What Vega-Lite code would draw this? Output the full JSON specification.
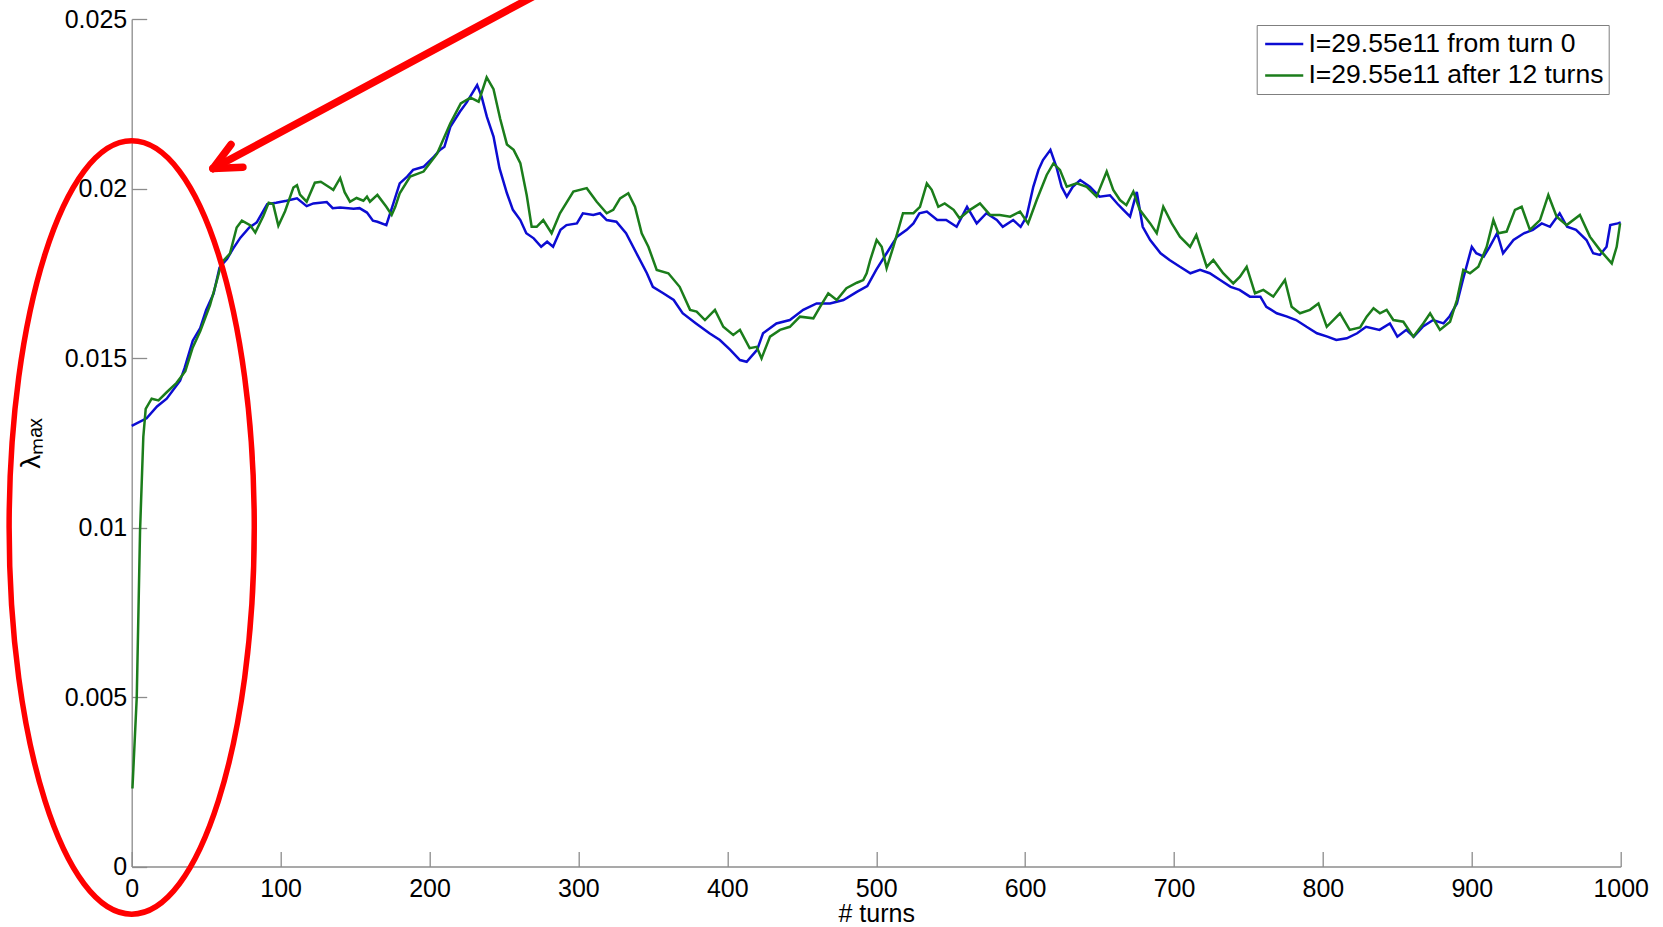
{
  "$schema": "https://vega.github.io/schema/vega-lite/v6.json",
  "autosize": {"type": "none"},
  "padding": {"left": 131.7, "top": 19, "right": 42.3, "bottom": 60.5},
  "width": 1489,
  "height": 847.5,
  "background": "white",
  "config": {"view": {"stroke": null}},
  "datasets": {
    "ring": [{"turn": 0, "lambda": 0.01}],
    "arrow": [
      {"turn": 271.7, "lambda": 0.02571, "turn2": 54.6, "lambda2": 0.02059},
      {"turn": 54.6, "lambda": 0.02059, "turn2": 66.7, "lambda2": 0.0213},
      {"turn": 54.6, "lambda": 0.02059, "turn2": 74.7, "lambda2": 0.02063}
    ],
    "lines": [
      {"run": "I=29.55e11 from turn 0", "turn": 0, "lambda": 0.013},
      {"run": "I=29.55e11 from turn 0", "turn": 10, "lambda": 0.01322},
      {"run": "I=29.55e11 from turn 0", "turn": 17, "lambda": 0.01357},
      {"run": "I=29.55e11 from turn 0", "turn": 23.5, "lambda": 0.0138},
      {"run": "I=29.55e11 from turn 0", "turn": 32.5, "lambda": 0.01433},
      {"run": "I=29.55e11 from turn 0", "turn": 35.5, "lambda": 0.0147},
      {"run": "I=29.55e11 from turn 0", "turn": 41, "lambda": 0.01551},
      {"run": "I=29.55e11 from turn 0", "turn": 46, "lambda": 0.01588},
      {"run": "I=29.55e11 from turn 0", "turn": 50, "lambda": 0.01642},
      {"run": "I=29.55e11 from turn 0", "turn": 55, "lambda": 0.0169},
      {"run": "I=29.55e11 from turn 0", "turn": 59, "lambda": 0.01767},
      {"run": "I=29.55e11 from turn 0", "turn": 64, "lambda": 0.01792},
      {"run": "I=29.55e11 from turn 0", "turn": 68, "lambda": 0.01822},
      {"run": "I=29.55e11 from turn 0", "turn": 73, "lambda": 0.01855},
      {"run": "I=29.55e11 from turn 0", "turn": 79, "lambda": 0.01885},
      {"run": "I=29.55e11 from turn 0", "turn": 84, "lambda": 0.019},
      {"run": "I=29.55e11 from turn 0", "turn": 91, "lambda": 0.01954},
      {"run": "I=29.55e11 from turn 0", "turn": 97, "lambda": 0.01958},
      {"run": "I=29.55e11 from turn 0", "turn": 104, "lambda": 0.01964},
      {"run": "I=29.55e11 from turn 0", "turn": 111, "lambda": 0.01971},
      {"run": "I=29.55e11 from turn 0", "turn": 117.5, "lambda": 0.01948},
      {"run": "I=29.55e11 from turn 0", "turn": 122, "lambda": 0.01956},
      {"run": "I=29.55e11 from turn 0", "turn": 131, "lambda": 0.0196},
      {"run": "I=29.55e11 from turn 0", "turn": 135, "lambda": 0.01942},
      {"run": "I=29.55e11 from turn 0", "turn": 140, "lambda": 0.01944},
      {"run": "I=29.55e11 from turn 0", "turn": 149, "lambda": 0.0194},
      {"run": "I=29.55e11 from turn 0", "turn": 153, "lambda": 0.01942},
      {"run": "I=29.55e11 from turn 0", "turn": 158, "lambda": 0.01929},
      {"run": "I=29.55e11 from turn 0", "turn": 162, "lambda": 0.01905},
      {"run": "I=29.55e11 from turn 0", "turn": 165, "lambda": 0.01902},
      {"run": "I=29.55e11 from turn 0", "turn": 171, "lambda": 0.01892},
      {"run": "I=29.55e11 from turn 0", "turn": 176, "lambda": 0.0196},
      {"run": "I=29.55e11 from turn 0", "turn": 180, "lambda": 0.02015},
      {"run": "I=29.55e11 from turn 0", "turn": 185, "lambda": 0.02035},
      {"run": "I=29.55e11 from turn 0", "turn": 189, "lambda": 0.02055},
      {"run": "I=29.55e11 from turn 0", "turn": 196, "lambda": 0.02064},
      {"run": "I=29.55e11 from turn 0", "turn": 203, "lambda": 0.02094},
      {"run": "I=29.55e11 from turn 0", "turn": 207, "lambda": 0.02114},
      {"run": "I=29.55e11 from turn 0", "turn": 210, "lambda": 0.02123},
      {"run": "I=29.55e11 from turn 0", "turn": 214, "lambda": 0.02182},
      {"run": "I=29.55e11 from turn 0", "turn": 220.5, "lambda": 0.02227},
      {"run": "I=29.55e11 from turn 0", "turn": 225, "lambda": 0.02254},
      {"run": "I=29.55e11 from turn 0", "turn": 232, "lambda": 0.02305},
      {"run": "I=29.55e11 from turn 0", "turn": 235, "lambda": 0.02271},
      {"run": "I=29.55e11 from turn 0", "turn": 238.5, "lambda": 0.02212},
      {"run": "I=29.55e11 from turn 0", "turn": 243, "lambda": 0.02153},
      {"run": "I=29.55e11 from turn 0", "turn": 247, "lambda": 0.0206},
      {"run": "I=29.55e11 from turn 0", "turn": 252, "lambda": 0.01986},
      {"run": "I=29.55e11 from turn 0", "turn": 256, "lambda": 0.01937},
      {"run": "I=29.55e11 from turn 0", "turn": 261, "lambda": 0.01907},
      {"run": "I=29.55e11 from turn 0", "turn": 265, "lambda": 0.01868},
      {"run": "I=29.55e11 from turn 0", "turn": 270, "lambda": 0.01853},
      {"run": "I=29.55e11 from turn 0", "turn": 275, "lambda": 0.01828},
      {"run": "I=29.55e11 from turn 0", "turn": 279, "lambda": 0.01843},
      {"run": "I=29.55e11 from turn 0", "turn": 283, "lambda": 0.01828},
      {"run": "I=29.55e11 from turn 0", "turn": 288, "lambda": 0.01878},
      {"run": "I=29.55e11 from turn 0", "turn": 292, "lambda": 0.01892},
      {"run": "I=29.55e11 from turn 0", "turn": 299, "lambda": 0.01897},
      {"run": "I=29.55e11 from turn 0", "turn": 303, "lambda": 0.01927},
      {"run": "I=29.55e11 from turn 0", "turn": 310, "lambda": 0.01922},
      {"run": "I=29.55e11 from turn 0", "turn": 314.5, "lambda": 0.01927},
      {"run": "I=29.55e11 from turn 0", "turn": 319, "lambda": 0.01907},
      {"run": "I=29.55e11 from turn 0", "turn": 325.5, "lambda": 0.01902},
      {"run": "I=29.55e11 from turn 0", "turn": 332, "lambda": 0.01868},
      {"run": "I=29.55e11 from turn 0", "turn": 339, "lambda": 0.01809},
      {"run": "I=29.55e11 from turn 0", "turn": 346, "lambda": 0.0175},
      {"run": "I=29.55e11 from turn 0", "turn": 350, "lambda": 0.0171},
      {"run": "I=29.55e11 from turn 0", "turn": 357, "lambda": 0.01691},
      {"run": "I=29.55e11 from turn 0", "turn": 364, "lambda": 0.01671},
      {"run": "I=29.55e11 from turn 0", "turn": 370, "lambda": 0.01632},
      {"run": "I=29.55e11 from turn 0", "turn": 379, "lambda": 0.01602},
      {"run": "I=29.55e11 from turn 0", "turn": 388, "lambda": 0.01573},
      {"run": "I=29.55e11 from turn 0", "turn": 395, "lambda": 0.01553},
      {"run": "I=29.55e11 from turn 0", "turn": 402, "lambda": 0.01524},
      {"run": "I=29.55e11 from turn 0", "turn": 408.5, "lambda": 0.01494},
      {"run": "I=29.55e11 from turn 0", "turn": 413, "lambda": 0.01489},
      {"run": "I=29.55e11 from turn 0", "turn": 420, "lambda": 0.01524},
      {"run": "I=29.55e11 from turn 0", "turn": 424, "lambda": 0.01573},
      {"run": "I=29.55e11 from turn 0", "turn": 433, "lambda": 0.01602},
      {"run": "I=29.55e11 from turn 0", "turn": 442, "lambda": 0.01612},
      {"run": "I=29.55e11 from turn 0", "turn": 451, "lambda": 0.01642},
      {"run": "I=29.55e11 from turn 0", "turn": 460, "lambda": 0.01661},
      {"run": "I=29.55e11 from turn 0", "turn": 469, "lambda": 0.01661},
      {"run": "I=29.55e11 from turn 0", "turn": 478, "lambda": 0.01671},
      {"run": "I=29.55e11 from turn 0", "turn": 487, "lambda": 0.01695},
      {"run": "I=29.55e11 from turn 0", "turn": 494, "lambda": 0.01712},
      {"run": "I=29.55e11 from turn 0", "turn": 500, "lambda": 0.0176},
      {"run": "I=29.55e11 from turn 0", "turn": 507, "lambda": 0.01809},
      {"run": "I=29.55e11 from turn 0", "turn": 514, "lambda": 0.01858},
      {"run": "I=29.55e11 from turn 0", "turn": 520.5, "lambda": 0.01878},
      {"run": "I=29.55e11 from turn 0", "turn": 525, "lambda": 0.01897},
      {"run": "I=29.55e11 from turn 0", "turn": 529, "lambda": 0.01927},
      {"run": "I=29.55e11 from turn 0", "turn": 534, "lambda": 0.01932},
      {"run": "I=29.55e11 from turn 0", "turn": 541, "lambda": 0.01907},
      {"run": "I=29.55e11 from turn 0", "turn": 547, "lambda": 0.01907},
      {"run": "I=29.55e11 from turn 0", "turn": 554, "lambda": 0.01887},
      {"run": "I=29.55e11 from turn 0", "turn": 561, "lambda": 0.01946},
      {"run": "I=29.55e11 from turn 0", "turn": 567.5, "lambda": 0.01897},
      {"run": "I=29.55e11 from turn 0", "turn": 574, "lambda": 0.01927},
      {"run": "I=29.55e11 from turn 0", "turn": 581, "lambda": 0.01907},
      {"run": "I=29.55e11 from turn 0", "turn": 585, "lambda": 0.01887},
      {"run": "I=29.55e11 from turn 0", "turn": 592, "lambda": 0.01907},
      {"run": "I=29.55e11 from turn 0", "turn": 597, "lambda": 0.01887},
      {"run": "I=29.55e11 from turn 0", "turn": 601, "lambda": 0.01917},
      {"run": "I=29.55e11 from turn 0", "turn": 605.5, "lambda": 0.02005},
      {"run": "I=29.55e11 from turn 0", "turn": 609, "lambda": 0.02055},
      {"run": "I=29.55e11 from turn 0", "turn": 612, "lambda": 0.02084},
      {"run": "I=29.55e11 from turn 0", "turn": 617, "lambda": 0.02114},
      {"run": "I=29.55e11 from turn 0", "turn": 621, "lambda": 0.02064},
      {"run": "I=29.55e11 from turn 0", "turn": 624.5, "lambda": 0.02005},
      {"run": "I=29.55e11 from turn 0", "turn": 628, "lambda": 0.01976},
      {"run": "I=29.55e11 from turn 0", "turn": 632, "lambda": 0.02005},
      {"run": "I=29.55e11 from turn 0", "turn": 637, "lambda": 0.02025},
      {"run": "I=29.55e11 from turn 0", "turn": 643.5, "lambda": 0.02005},
      {"run": "I=29.55e11 from turn 0", "turn": 650, "lambda": 0.01976},
      {"run": "I=29.55e11 from turn 0", "turn": 657, "lambda": 0.0198},
      {"run": "I=29.55e11 from turn 0", "turn": 662, "lambda": 0.01955},
      {"run": "I=29.55e11 from turn 0", "turn": 666, "lambda": 0.01937},
      {"run": "I=29.55e11 from turn 0", "turn": 670.5, "lambda": 0.01917},
      {"run": "I=29.55e11 from turn 0", "turn": 675, "lambda": 0.0199},
      {"run": "I=29.55e11 from turn 0", "turn": 679, "lambda": 0.01887},
      {"run": "I=29.55e11 from turn 0", "turn": 684, "lambda": 0.01848},
      {"run": "I=29.55e11 from turn 0", "turn": 691, "lambda": 0.01809},
      {"run": "I=29.55e11 from turn 0", "turn": 697, "lambda": 0.01789},
      {"run": "I=29.55e11 from turn 0", "turn": 704, "lambda": 0.01769},
      {"run": "I=29.55e11 from turn 0", "turn": 711, "lambda": 0.0175},
      {"run": "I=29.55e11 from turn 0", "turn": 717.5, "lambda": 0.0176},
      {"run": "I=29.55e11 from turn 0", "turn": 724, "lambda": 0.0175},
      {"run": "I=29.55e11 from turn 0", "turn": 731, "lambda": 0.0173},
      {"run": "I=29.55e11 from turn 0", "turn": 738, "lambda": 0.0171},
      {"run": "I=29.55e11 from turn 0", "turn": 744, "lambda": 0.01701},
      {"run": "I=29.55e11 from turn 0", "turn": 751, "lambda": 0.01681},
      {"run": "I=29.55e11 from turn 0", "turn": 758, "lambda": 0.01681},
      {"run": "I=29.55e11 from turn 0", "turn": 762, "lambda": 0.01651},
      {"run": "I=29.55e11 from turn 0", "turn": 769, "lambda": 0.01632},
      {"run": "I=29.55e11 from turn 0", "turn": 776, "lambda": 0.01622},
      {"run": "I=29.55e11 from turn 0", "turn": 782, "lambda": 0.01612},
      {"run": "I=29.55e11 from turn 0", "turn": 789, "lambda": 0.01592},
      {"run": "I=29.55e11 from turn 0", "turn": 796, "lambda": 0.01573},
      {"run": "I=29.55e11 from turn 0", "turn": 803, "lambda": 0.01563},
      {"run": "I=29.55e11 from turn 0", "turn": 809, "lambda": 0.01553},
      {"run": "I=29.55e11 from turn 0", "turn": 816, "lambda": 0.01558},
      {"run": "I=29.55e11 from turn 0", "turn": 823, "lambda": 0.01573},
      {"run": "I=29.55e11 from turn 0", "turn": 829, "lambda": 0.01592},
      {"run": "I=29.55e11 from turn 0", "turn": 838, "lambda": 0.01583},
      {"run": "I=29.55e11 from turn 0", "turn": 845, "lambda": 0.01602},
      {"run": "I=29.55e11 from turn 0", "turn": 850, "lambda": 0.01563},
      {"run": "I=29.55e11 from turn 0", "turn": 856, "lambda": 0.01583},
      {"run": "I=29.55e11 from turn 0", "turn": 861, "lambda": 0.01563},
      {"run": "I=29.55e11 from turn 0", "turn": 867, "lambda": 0.01592},
      {"run": "I=29.55e11 from turn 0", "turn": 874, "lambda": 0.01612},
      {"run": "I=29.55e11 from turn 0", "turn": 881, "lambda": 0.01602},
      {"run": "I=29.55e11 from turn 0", "turn": 885, "lambda": 0.01622},
      {"run": "I=29.55e11 from turn 0", "turn": 890, "lambda": 0.01661},
      {"run": "I=29.55e11 from turn 0", "turn": 894, "lambda": 0.0173},
      {"run": "I=29.55e11 from turn 0", "turn": 900, "lambda": 0.01828},
      {"run": "I=29.55e11 from turn 0", "turn": 903, "lambda": 0.01809},
      {"run": "I=29.55e11 from turn 0", "turn": 908, "lambda": 0.01799},
      {"run": "I=29.55e11 from turn 0", "turn": 912, "lambda": 0.01828},
      {"run": "I=29.55e11 from turn 0", "turn": 917, "lambda": 0.01868},
      {"run": "I=29.55e11 from turn 0", "turn": 921, "lambda": 0.01809},
      {"run": "I=29.55e11 from turn 0", "turn": 928, "lambda": 0.01848},
      {"run": "I=29.55e11 from turn 0", "turn": 935, "lambda": 0.01868},
      {"run": "I=29.55e11 from turn 0", "turn": 941, "lambda": 0.01878},
      {"run": "I=29.55e11 from turn 0", "turn": 947, "lambda": 0.01897},
      {"run": "I=29.55e11 from turn 0", "turn": 952.5, "lambda": 0.01887},
      {"run": "I=29.55e11 from turn 0", "turn": 959, "lambda": 0.01927},
      {"run": "I=29.55e11 from turn 0", "turn": 964, "lambda": 0.01887},
      {"run": "I=29.55e11 from turn 0", "turn": 970, "lambda": 0.01878},
      {"run": "I=29.55e11 from turn 0", "turn": 977, "lambda": 0.01848},
      {"run": "I=29.55e11 from turn 0", "turn": 981.5, "lambda": 0.01809},
      {"run": "I=29.55e11 from turn 0", "turn": 986, "lambda": 0.01804},
      {"run": "I=29.55e11 from turn 0", "turn": 990.5, "lambda": 0.01828},
      {"run": "I=29.55e11 from turn 0", "turn": 993, "lambda": 0.01892},
      {"run": "I=29.55e11 from turn 0", "turn": 998, "lambda": 0.01897},
      {"run": "I=29.55e11 from turn 0", "turn": 1000, "lambda": 0.019},
      {"run": "I=29.55e11 after 12 turns", "turn": 0.5, "lambda": 0.0023},
      {"run": "I=29.55e11 after 12 turns", "turn": 3.4, "lambda": 0.005},
      {"run": "I=29.55e11 after 12 turns", "turn": 5.6, "lambda": 0.00989},
      {"run": "I=29.55e11 after 12 turns", "turn": 7.8, "lambda": 0.01267},
      {"run": "I=29.55e11 after 12 turns", "turn": 9.4, "lambda": 0.0135},
      {"run": "I=29.55e11 after 12 turns", "turn": 13.4, "lambda": 0.0138},
      {"run": "I=29.55e11 after 12 turns", "turn": 18, "lambda": 0.01375},
      {"run": "I=29.55e11 after 12 turns", "turn": 23.5, "lambda": 0.01399},
      {"run": "I=29.55e11 after 12 turns", "turn": 30, "lambda": 0.01426},
      {"run": "I=29.55e11 after 12 turns", "turn": 36, "lambda": 0.01461},
      {"run": "I=29.55e11 after 12 turns", "turn": 41, "lambda": 0.01531},
      {"run": "I=29.55e11 after 12 turns", "turn": 46, "lambda": 0.01579},
      {"run": "I=29.55e11 after 12 turns", "turn": 52.6, "lambda": 0.01656},
      {"run": "I=29.55e11 after 12 turns", "turn": 57, "lambda": 0.01725},
      {"run": "I=29.55e11 after 12 turns", "turn": 60.4, "lambda": 0.01781},
      {"run": "I=29.55e11 after 12 turns", "turn": 66, "lambda": 0.01808},
      {"run": "I=29.55e11 after 12 turns", "turn": 70.5, "lambda": 0.01885},
      {"run": "I=29.55e11 after 12 turns", "turn": 74, "lambda": 0.01905},
      {"run": "I=29.55e11 after 12 turns", "turn": 79.5, "lambda": 0.01892},
      {"run": "I=29.55e11 after 12 turns", "turn": 83, "lambda": 0.0187},
      {"run": "I=29.55e11 after 12 turns", "turn": 88.4, "lambda": 0.01919},
      {"run": "I=29.55e11 after 12 turns", "turn": 92, "lambda": 0.01958},
      {"run": "I=29.55e11 after 12 turns", "turn": 95, "lambda": 0.01954},
      {"run": "I=29.55e11 after 12 turns", "turn": 98.5, "lambda": 0.0189},
      {"run": "I=29.55e11 after 12 turns", "turn": 103, "lambda": 0.01933},
      {"run": "I=29.55e11 after 12 turns", "turn": 108.6, "lambda": 0.02003},
      {"run": "I=29.55e11 after 12 turns", "turn": 111, "lambda": 0.0201},
      {"run": "I=29.55e11 after 12 turns", "turn": 113, "lambda": 0.01982},
      {"run": "I=29.55e11 after 12 turns", "turn": 117.5, "lambda": 0.01961},
      {"run": "I=29.55e11 after 12 turns", "turn": 123, "lambda": 0.02017},
      {"run": "I=29.55e11 after 12 turns", "turn": 127, "lambda": 0.0202},
      {"run": "I=29.55e11 after 12 turns", "turn": 133, "lambda": 0.02003},
      {"run": "I=29.55e11 after 12 turns", "turn": 135.4, "lambda": 0.01996},
      {"run": "I=29.55e11 after 12 turns", "turn": 140, "lambda": 0.02031},
      {"run": "I=29.55e11 after 12 turns", "turn": 143, "lambda": 0.01989},
      {"run": "I=29.55e11 after 12 turns", "turn": 146.6, "lambda": 0.01961},
      {"run": "I=29.55e11 after 12 turns", "turn": 151, "lambda": 0.01972},
      {"run": "I=29.55e11 after 12 turns", "turn": 155.6, "lambda": 0.01964},
      {"run": "I=29.55e11 after 12 turns", "turn": 158, "lambda": 0.01976},
      {"run": "I=29.55e11 after 12 turns", "turn": 160, "lambda": 0.01961},
      {"run": "I=29.55e11 after 12 turns", "turn": 165, "lambda": 0.01981},
      {"run": "I=29.55e11 after 12 turns", "turn": 171, "lambda": 0.01946},
      {"run": "I=29.55e11 after 12 turns", "turn": 174.6, "lambda": 0.01922},
      {"run": "I=29.55e11 after 12 turns", "turn": 177, "lambda": 0.01946},
      {"run": "I=29.55e11 after 12 turns", "turn": 180, "lambda": 0.01986},
      {"run": "I=29.55e11 after 12 turns", "turn": 187, "lambda": 0.02035},
      {"run": "I=29.55e11 after 12 turns", "turn": 196, "lambda": 0.0205},
      {"run": "I=29.55e11 after 12 turns", "turn": 205, "lambda": 0.02102},
      {"run": "I=29.55e11 after 12 turns", "turn": 214, "lambda": 0.02192},
      {"run": "I=29.55e11 after 12 turns", "turn": 221, "lambda": 0.02251},
      {"run": "I=29.55e11 after 12 turns", "turn": 227.5, "lambda": 0.02268},
      {"run": "I=29.55e11 after 12 turns", "turn": 233, "lambda": 0.02256},
      {"run": "I=29.55e11 after 12 turns", "turn": 238.4, "lambda": 0.02328},
      {"run": "I=29.55e11 after 12 turns", "turn": 243, "lambda": 0.02293},
      {"run": "I=29.55e11 after 12 turns", "turn": 247.5, "lambda": 0.02205},
      {"run": "I=29.55e11 after 12 turns", "turn": 252, "lambda": 0.0213},
      {"run": "I=29.55e11 after 12 turns", "turn": 256.5, "lambda": 0.02114},
      {"run": "I=29.55e11 after 12 turns", "turn": 261, "lambda": 0.02075},
      {"run": "I=29.55e11 after 12 turns", "turn": 265.3, "lambda": 0.0198},
      {"run": "I=29.55e11 after 12 turns", "turn": 268.6, "lambda": 0.01887},
      {"run": "I=29.55e11 after 12 turns", "turn": 272, "lambda": 0.01887},
      {"run": "I=29.55e11 after 12 turns", "turn": 276.4, "lambda": 0.01907},
      {"run": "I=29.55e11 after 12 turns", "turn": 282, "lambda": 0.01868},
      {"run": "I=29.55e11 after 12 turns", "turn": 287.6, "lambda": 0.01927},
      {"run": "I=29.55e11 after 12 turns", "turn": 296.6, "lambda": 0.01991},
      {"run": "I=29.55e11 after 12 turns", "turn": 305.6, "lambda": 0.02001},
      {"run": "I=29.55e11 after 12 turns", "turn": 312.3, "lambda": 0.01961},
      {"run": "I=29.55e11 after 12 turns", "turn": 319, "lambda": 0.01927},
      {"run": "I=29.55e11 after 12 turns", "turn": 323.4, "lambda": 0.01937},
      {"run": "I=29.55e11 after 12 turns", "turn": 328, "lambda": 0.01971},
      {"run": "I=29.55e11 after 12 turns", "turn": 333.5, "lambda": 0.01986},
      {"run": "I=29.55e11 after 12 turns", "turn": 338, "lambda": 0.01946},
      {"run": "I=29.55e11 after 12 turns", "turn": 342.5, "lambda": 0.01868},
      {"run": "I=29.55e11 after 12 turns", "turn": 347, "lambda": 0.01828},
      {"run": "I=29.55e11 after 12 turns", "turn": 352.6, "lambda": 0.0176},
      {"run": "I=29.55e11 after 12 turns", "turn": 360.4, "lambda": 0.0175},
      {"run": "I=29.55e11 after 12 turns", "turn": 368, "lambda": 0.0171},
      {"run": "I=29.55e11 after 12 turns", "turn": 375, "lambda": 0.01642},
      {"run": "I=29.55e11 after 12 turns", "turn": 379.4, "lambda": 0.01637},
      {"run": "I=29.55e11 after 12 turns", "turn": 385, "lambda": 0.01612},
      {"run": "I=29.55e11 after 12 turns", "turn": 391.7, "lambda": 0.01642},
      {"run": "I=29.55e11 after 12 turns", "turn": 397.3, "lambda": 0.01592},
      {"run": "I=29.55e11 after 12 turns", "turn": 404, "lambda": 0.01568},
      {"run": "I=29.55e11 after 12 turns", "turn": 408.5, "lambda": 0.01583},
      {"run": "I=29.55e11 after 12 turns", "turn": 415, "lambda": 0.01529},
      {"run": "I=29.55e11 after 12 turns", "turn": 419.7, "lambda": 0.01533},
      {"run": "I=29.55e11 after 12 turns", "turn": 423, "lambda": 0.01499},
      {"run": "I=29.55e11 after 12 turns", "turn": 428.7, "lambda": 0.01563},
      {"run": "I=29.55e11 after 12 turns", "turn": 435.4, "lambda": 0.01583},
      {"run": "I=29.55e11 after 12 turns", "turn": 442, "lambda": 0.01592},
      {"run": "I=29.55e11 after 12 turns", "turn": 448.8, "lambda": 0.01622},
      {"run": "I=29.55e11 after 12 turns", "turn": 457.8, "lambda": 0.01617},
      {"run": "I=29.55e11 after 12 turns", "turn": 462.3, "lambda": 0.01651},
      {"run": "I=29.55e11 after 12 turns", "turn": 467.8, "lambda": 0.01691},
      {"run": "I=29.55e11 after 12 turns", "turn": 473.5, "lambda": 0.01671},
      {"run": "I=29.55e11 after 12 turns", "turn": 480, "lambda": 0.01706},
      {"run": "I=29.55e11 after 12 turns", "turn": 487, "lambda": 0.01722},
      {"run": "I=29.55e11 after 12 turns", "turn": 491.3, "lambda": 0.0173},
      {"run": "I=29.55e11 after 12 turns", "turn": 493.6, "lambda": 0.0175},
      {"run": "I=29.55e11 after 12 turns", "turn": 496, "lambda": 0.01789},
      {"run": "I=29.55e11 after 12 turns", "turn": 500.3, "lambda": 0.01848},
      {"run": "I=29.55e11 after 12 turns", "turn": 503.7, "lambda": 0.01828},
      {"run": "I=29.55e11 after 12 turns", "turn": 507, "lambda": 0.01765},
      {"run": "I=29.55e11 after 12 turns", "turn": 511.5, "lambda": 0.01828},
      {"run": "I=29.55e11 after 12 turns", "turn": 518, "lambda": 0.01927},
      {"run": "I=29.55e11 after 12 turns", "turn": 525, "lambda": 0.01927},
      {"run": "I=29.55e11 after 12 turns", "turn": 529.4, "lambda": 0.01946},
      {"run": "I=29.55e11 after 12 turns", "turn": 534, "lambda": 0.02015},
      {"run": "I=29.55e11 after 12 turns", "turn": 537.3, "lambda": 0.01996},
      {"run": "I=29.55e11 after 12 turns", "turn": 541.7, "lambda": 0.01946},
      {"run": "I=29.55e11 after 12 turns", "turn": 546, "lambda": 0.01956},
      {"run": "I=29.55e11 after 12 turns", "turn": 552, "lambda": 0.01937},
      {"run": "I=29.55e11 after 12 turns", "turn": 556, "lambda": 0.01912},
      {"run": "I=29.55e11 after 12 turns", "turn": 563, "lambda": 0.01937},
      {"run": "I=29.55e11 after 12 turns", "turn": 569.7, "lambda": 0.01956},
      {"run": "I=29.55e11 after 12 turns", "turn": 576.4, "lambda": 0.01922},
      {"run": "I=29.55e11 after 12 turns", "turn": 583, "lambda": 0.01922},
      {"run": "I=29.55e11 after 12 turns", "turn": 590, "lambda": 0.01917},
      {"run": "I=29.55e11 after 12 turns", "turn": 596.6, "lambda": 0.01932},
      {"run": "I=29.55e11 after 12 turns", "turn": 602, "lambda": 0.01897},
      {"run": "I=29.55e11 after 12 turns", "turn": 607.8, "lambda": 0.01966},
      {"run": "I=29.55e11 after 12 turns", "turn": 614.5, "lambda": 0.0204},
      {"run": "I=29.55e11 after 12 turns", "turn": 619, "lambda": 0.02074},
      {"run": "I=29.55e11 after 12 turns", "turn": 623.4, "lambda": 0.02055},
      {"run": "I=29.55e11 after 12 turns", "turn": 628, "lambda": 0.02005},
      {"run": "I=29.55e11 after 12 turns", "turn": 634.6, "lambda": 0.02015},
      {"run": "I=29.55e11 after 12 turns", "turn": 641.4, "lambda": 0.02005},
      {"run": "I=29.55e11 after 12 turns", "turn": 648, "lambda": 0.01976},
      {"run": "I=29.55e11 after 12 turns", "turn": 654.8, "lambda": 0.0205},
      {"run": "I=29.55e11 after 12 turns", "turn": 659.2, "lambda": 0.01996},
      {"run": "I=29.55e11 after 12 turns", "turn": 663.7, "lambda": 0.01966},
      {"run": "I=29.55e11 after 12 turns", "turn": 668, "lambda": 0.01951},
      {"run": "I=29.55e11 after 12 turns", "turn": 672.7, "lambda": 0.01991},
      {"run": "I=29.55e11 after 12 turns", "turn": 677, "lambda": 0.01937},
      {"run": "I=29.55e11 after 12 turns", "turn": 684, "lambda": 0.01897},
      {"run": "I=29.55e11 after 12 turns", "turn": 688.4, "lambda": 0.01868},
      {"run": "I=29.55e11 after 12 turns", "turn": 692.8, "lambda": 0.01946},
      {"run": "I=29.55e11 after 12 turns", "turn": 698.5, "lambda": 0.01897},
      {"run": "I=29.55e11 after 12 turns", "turn": 704, "lambda": 0.01858},
      {"run": "I=29.55e11 after 12 turns", "turn": 710.8, "lambda": 0.01828},
      {"run": "I=29.55e11 after 12 turns", "turn": 715, "lambda": 0.01863},
      {"run": "I=29.55e11 after 12 turns", "turn": 722, "lambda": 0.01769},
      {"run": "I=29.55e11 after 12 turns", "turn": 726.4, "lambda": 0.01789},
      {"run": "I=29.55e11 after 12 turns", "turn": 733, "lambda": 0.0175},
      {"run": "I=29.55e11 after 12 turns", "turn": 739.8, "lambda": 0.0172},
      {"run": "I=29.55e11 after 12 turns", "turn": 744.3, "lambda": 0.0174},
      {"run": "I=29.55e11 after 12 turns", "turn": 748.8, "lambda": 0.01769},
      {"run": "I=29.55e11 after 12 turns", "turn": 754.4, "lambda": 0.01691},
      {"run": "I=29.55e11 after 12 turns", "turn": 760, "lambda": 0.01701},
      {"run": "I=29.55e11 after 12 turns", "turn": 766.7, "lambda": 0.01681},
      {"run": "I=29.55e11 after 12 turns", "turn": 774.5, "lambda": 0.0173},
      {"run": "I=29.55e11 after 12 turns", "turn": 779, "lambda": 0.01651},
      {"run": "I=29.55e11 after 12 turns", "turn": 784.6, "lambda": 0.01632},
      {"run": "I=29.55e11 after 12 turns", "turn": 791.3, "lambda": 0.01642},
      {"run": "I=29.55e11 after 12 turns", "turn": 797, "lambda": 0.01661},
      {"run": "I=29.55e11 after 12 turns", "turn": 802.6, "lambda": 0.01592},
      {"run": "I=29.55e11 after 12 turns", "turn": 811.5, "lambda": 0.01632},
      {"run": "I=29.55e11 after 12 turns", "turn": 818, "lambda": 0.01583},
      {"run": "I=29.55e11 after 12 turns", "turn": 825, "lambda": 0.0159},
      {"run": "I=29.55e11 after 12 turns", "turn": 829.4, "lambda": 0.01622},
      {"run": "I=29.55e11 after 12 turns", "turn": 834, "lambda": 0.01647},
      {"run": "I=29.55e11 after 12 turns", "turn": 838.3, "lambda": 0.01632},
      {"run": "I=29.55e11 after 12 turns", "turn": 842.8, "lambda": 0.01642},
      {"run": "I=29.55e11 after 12 turns", "turn": 847.3, "lambda": 0.01612},
      {"run": "I=29.55e11 after 12 turns", "turn": 854, "lambda": 0.01607},
      {"run": "I=29.55e11 after 12 turns", "turn": 860.7, "lambda": 0.01563},
      {"run": "I=29.55e11 after 12 turns", "turn": 867.4, "lambda": 0.01602},
      {"run": "I=29.55e11 after 12 turns", "turn": 872, "lambda": 0.01632},
      {"run": "I=29.55e11 after 12 turns", "turn": 878.6, "lambda": 0.01583},
      {"run": "I=29.55e11 after 12 turns", "turn": 885.4, "lambda": 0.01607},
      {"run": "I=29.55e11 after 12 turns", "turn": 890, "lambda": 0.01671},
      {"run": "I=29.55e11 after 12 turns", "turn": 894.3, "lambda": 0.0176},
      {"run": "I=29.55e11 after 12 turns", "turn": 898.8, "lambda": 0.0175},
      {"run": "I=29.55e11 after 12 turns", "turn": 904.4, "lambda": 0.01769},
      {"run": "I=29.55e11 after 12 turns", "turn": 910, "lambda": 0.01828},
      {"run": "I=29.55e11 after 12 turns", "turn": 914.5, "lambda": 0.01907},
      {"run": "I=29.55e11 after 12 turns", "turn": 917.8, "lambda": 0.01868},
      {"run": "I=29.55e11 after 12 turns", "turn": 923.4, "lambda": 0.01873},
      {"run": "I=29.55e11 after 12 turns", "turn": 929, "lambda": 0.01937},
      {"run": "I=29.55e11 after 12 turns", "turn": 933.5, "lambda": 0.01946},
      {"run": "I=29.55e11 after 12 turns", "turn": 939, "lambda": 0.01878},
      {"run": "I=29.55e11 after 12 turns", "turn": 945.8, "lambda": 0.01907},
      {"run": "I=29.55e11 after 12 turns", "turn": 951.4, "lambda": 0.01981},
      {"run": "I=29.55e11 after 12 turns", "turn": 957, "lambda": 0.01917},
      {"run": "I=29.55e11 after 12 turns", "turn": 963.7, "lambda": 0.01892},
      {"run": "I=29.55e11 after 12 turns", "turn": 972.6, "lambda": 0.01922},
      {"run": "I=29.55e11 after 12 turns", "turn": 979.3, "lambda": 0.01858},
      {"run": "I=29.55e11 after 12 turns", "turn": 986, "lambda": 0.01819},
      {"run": "I=29.55e11 after 12 turns", "turn": 994, "lambda": 0.01779},
      {"run": "I=29.55e11 after 12 turns", "turn": 997.3, "lambda": 0.01828},
      {"run": "I=29.55e11 after 12 turns", "turn": 999.6, "lambda": 0.01897}
    ]
  },
  "encoding": {
    "x": {
      "field": "turn",
      "type": "quantitative",
      "scale": {"domain": [0, 1000], "nice": false, "zero": false},
      "axis": {
        "values": [0, 100, 200, 300, 400, 500, 600, 700, 800, 900, 1000],
        "format": "d",
        "grid": false,
        "tickSize": -15,
        "labelPadding": 24.5,
        "labelFlush": false,
        "labelOverlap": false,
        "domainColor": "#8c8c8c",
        "domainWidth": 1.3,
        "tickColor": "#8c8c8c",
        "tickWidth": 1.3,
        "labelFont": "Liberation Sans",
        "labelFontSize": 25,
        "labelColor": "#000000",
        "title": "# turns",
        "titleFont": "Liberation Sans",
        "titleFontSize": 25,
        "titleFontWeight": "normal",
        "titleColor": "#000000",
        "titleBaseline": "middle",
        "titleY": 46.5
      }
    },
    "y": {
      "field": "lambda",
      "type": "quantitative",
      "scale": {"domain": [0, 0.025], "nice": false, "zero": false},
      "axis": {
        "values": [0, 0.005, 0.01, 0.015, 0.02, 0.025],
        "format": ".3~f",
        "grid": false,
        "tickSize": -15,
        "labelPadding": 20,
        "labelFlush": false,
        "labelOverlap": false,
        "domainColor": "#8c8c8c",
        "domainWidth": 1.3,
        "tickColor": "#8c8c8c",
        "tickWidth": 1.3,
        "labelFont": "Liberation Sans",
        "labelFontSize": 25,
        "labelColor": "#000000",
        "title": "λₘₐₓ",
        "titleFont": "Liberation Sans",
        "titleFontSize": 28,
        "titleFontWeight": "normal",
        "titleColor": "#000000",
        "titleAngle": -90,
        "titleBaseline": "alphabetic",
        "titleX": -92,
        "titleY": 424
      }
    }
  },
  "layer": [
    {
      "data": {"name": "lines"},
      "mark": {"type": "line", "strokeWidth": 2.5, "interpolate": "linear"},
      "encoding": {
        "color": {
          "field": "run",
          "type": "nominal",
          "scale": {
            "domain": ["I=29.55e11 from turn 0", "I=29.55e11 after 12 turns"],
            "range": ["#0c0cd2", "#1b7d1b"]
          },
          "legend": {
            "orient": "none",
            "legendX": 1125,
            "legendY": 6,
            "title": null,
            "symbolType": "M -0.81 0 L 2.12 0",
            "symbolSize": 676,
            "symbolStrokeWidth": 2.5,
            "labelFont": "Liberation Sans",
            "labelFontSize": 26.5,
            "labelColor": "#000000",
            "labelLimit": 0,
            "labelOffset": 18.3,
            "strokeColor": "#7f7f7f",
            "fillColor": "#ffffff",
            "padding": 4.5,
            "rowPadding": 3.4,
            "cornerRadius": 0
          }
        }
      }
    },
    {
      "data": {"name": "ring"},
      "mark": {
        "type": "point",
        "shape": "M 0 -1 A 0.317 1 0 1 1 0 1 A 0.317 1 0 1 1 0 -1 Z",
        "size": 598000,
        "filled": false,
        "stroke": "#ff0000",
        "strokeWidth": 5.5,
        "opacity": 1
      }
    },
    {
      "data": {"name": "arrow"},
      "mark": {"type": "rule", "color": "#ff0000", "strokeWidth": 7.5, "strokeCap": "round"},
      "encoding": {
        "x2": {"field": "turn2"},
        "y2": {"field": "lambda2"}
      }
    }
  ]
}
